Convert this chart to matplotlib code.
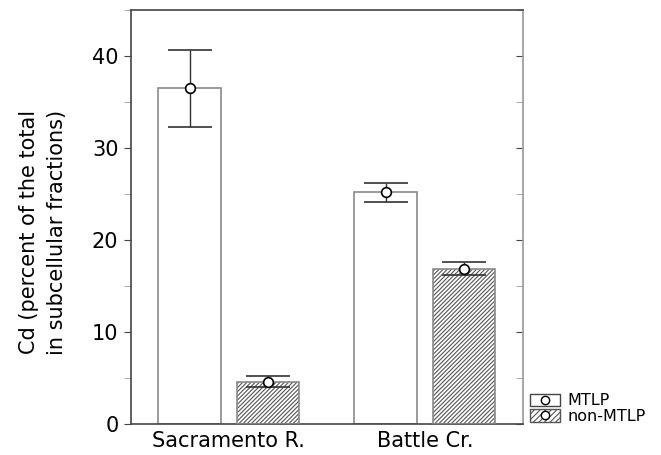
import matplotlib
matplotlib.use("Agg")
import matplotlib.pyplot as plt
from matplotlib.patches import Patch
from matplotlib.lines import Line2D
from matplotlib.ticker import MultipleLocator
import numpy as np

plt.rcParams['font.family'] = ['DejaVu Sans']
plt.rcParams['hatch.linewidth'] = 0.8

sites = ["Sacramento R.", "Battle Cr."]
series = ["MTLP", "non-MTLP"]
mtlp_mean = [36.5, 25.2]
mtlp_err = [4.2, 1.05]
non_mean = [4.6, 16.9]
non_err = [0.6, 0.75]

fig = plt.figure(figsize=(6.61, 4.55), dpi=100)
ax = fig.add_axes([0.198, 0.068, 0.593, 0.910])

x = np.arange(1, len(sites) + 1)
w = 0.32
off = 0.2
edge = '#8a8a8a'
hatch = '/' * 8

# MTLP bars
ax.bar(x - off, mtlp_mean, width=w, facecolor='white', edgecolor=edge, linewidth=1.2, zorder=2)
# non-MTLP hatched bars
ax.bar(x + off, non_mean, width=w, facecolor='white', edgecolor='#555555', hatch=hatch, linewidth=0, zorder=2)
ax.bar(x + off, non_mean, width=w, facecolor='none', edgecolor=edge, linewidth=1.2, zorder=3)

for xs, m, e in [(x - off, mtlp_mean, mtlp_err), (x + off, non_mean, non_err)]:
    ax.errorbar(xs, m, yerr=e, fmt='o', color='#333333', ecolor='#333333', elinewidth=1,
                capsize=16, capthick=1, markersize=7, markerfacecolor='white',
                markeredgecolor='black', markeredgewidth=1.2, zorder=4)

ax.set_xlim(0.5, 2.5)
ax.set_ylim(0, 45)
ax.set_xticks(x)
ax.set_xticklabels(sites, fontsize=15)
ax.tick_params(axis='x', length=0, pad=5)
ax.yaxis.set_major_locator(MultipleLocator(10))
ax.yaxis.set_minor_locator(MultipleLocator(5))
ax.tick_params(axis='y', which='both', direction='out', right=False, labelsize=15, color='#444444')
ax.tick_params(axis='y', which='major', length=5, pad=4)
ax.tick_params(axis='y', which='minor', length=5, color='#999999')

# right side ticks inward via secondary axis
ax2 = ax.secondary_yaxis('right')
ax2.yaxis.set_major_locator(MultipleLocator(10))
ax2.yaxis.set_minor_locator(MultipleLocator(5))
ax2.tick_params(axis='y', which='both', direction='in', labelright=False, length=5, color='#444444')
ax2.tick_params(axis='y', which='minor', color='#999999')
ax2.spines['right'].set_visible(False)

for s in ax.spines.values():
    s.set_color('#444444')
    s.set_linewidth(1.2)
ax.spines['right'].set_color('#999999')

ax.set_ylabel("Cd (percent of the total\nin subcellular fractions)", fontsize=15,
              linespacing=1.5)
ax.yaxis.set_label_coords(-0.162, 0.464)

marker = Line2D([], [], marker='o', linestyle='none', markersize=6, markerfacecolor='white',
                markeredgecolor='black', markeredgewidth=1)
h1 = (Patch(facecolor='white', edgecolor='#444444', linewidth=1), marker)
h2 = (Patch(facecolor='white', edgecolor='#555555', hatch='/' * 6, linewidth=1), marker)
fig.legend([h1, h2], series, loc='lower left', bbox_to_anchor=(0.785, 0.043), frameon=False,
           fontsize=11.5, handlelength=1.9, handleheight=0.85, handletextpad=0.45,
           labelspacing=0.05, borderpad=0.2)

fig.savefig("out.png", dpi=100)
